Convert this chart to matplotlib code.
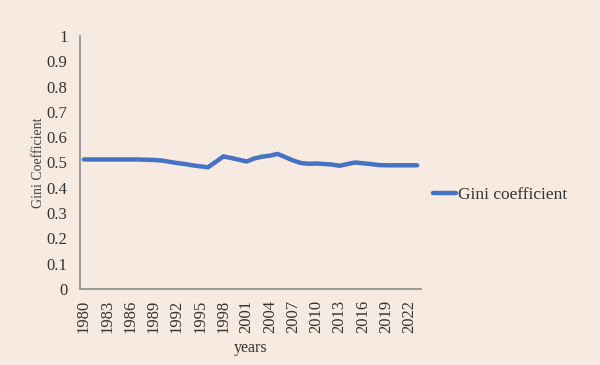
import matplotlib
matplotlib.use("Agg")
import matplotlib.pyplot as plt

years = list(range(1980, 2024))
gini = [0.512, 0.512, 0.512, 0.512, 0.512, 0.512, 0.512, 0.512,
        0.511, 0.510, 0.508,
        0.503, 0.498, 0.494, 0.489, 0.485, 0.481,
        0.502, 0.524, 0.518, 0.511, 0.504,
        0.516, 0.523, 0.527, 0.534,
        0.521, 0.508, 0.498, 0.495, 0.496, 0.494, 0.492, 0.487,
        0.494, 0.500, 0.497, 0.494, 0.490, 0.489, 0.489, 0.489, 0.489, 0.489]
tick_years = [str(y) for y in range(1980, 2023, 3)]
yticks = [0, 0.1, 0.2, 0.3, 0.4, 0.5, 0.6, 0.7, 0.8, 0.9, 1]
ytick_labels = ["0", "0.1", "0.2", "0.3", "0.4", "0.5", "0.6", "0.7", "0.8", "0.9", "1"]

bg = "#F7EAE1"
plt.rcParams['font.family'] = ['Liberation Serif', 'DejaVu Serif']
fig = plt.figure(figsize=(6, 3.65), dpi=100, facecolor=bg)
ax = fig.add_axes([80/600, 76/365, 341/600, 253/365], facecolor=bg)

x = list(range(len(years)))
ax.plot(x, gini, color="#4472C4", lw=3.2, solid_capstyle="round", label="Gini coefficient")
ax.set_xlim(-0.5, len(years) - 0.5)
ax.set_ylim(0, 1)
tick_pos = [years.index(int(t)) for t in tick_years]
ax.set_xticks(tick_pos)
ax.set_xticklabels(tick_years, rotation=90, fontsize=12, color="#333333")
ax.set_yticks(yticks)
ax.set_yticklabels(ytick_labels, fontsize=12, color="#333333")
ax.tick_params(axis="y", length=0, pad=9)
ax.tick_params(axis="x", length=0, pad=8)
for s in ["top", "right"]:
    ax.spines[s].set_visible(False)
for s in ["left", "bottom"]:
    ax.spines[s].set_color("#8C8C8C")
    ax.spines[s].set_linewidth(1.2)
ax.set_ylabel("Gini Coefficient", fontsize=10, color="#444444", labelpad=1)
ax.set_xlabel("years", fontsize=11.5, color="#333333", labelpad=5)

fig.legend(loc="center left", bbox_to_anchor=(433/600, 170/365), frameon=False,
           fontsize=12.5, handlelength=1.35, handletextpad=0.1, borderpad=0, borderaxespad=0,
           labelcolor="#333333")

fig.savefig("out.png", dpi=100, facecolor=bg)
